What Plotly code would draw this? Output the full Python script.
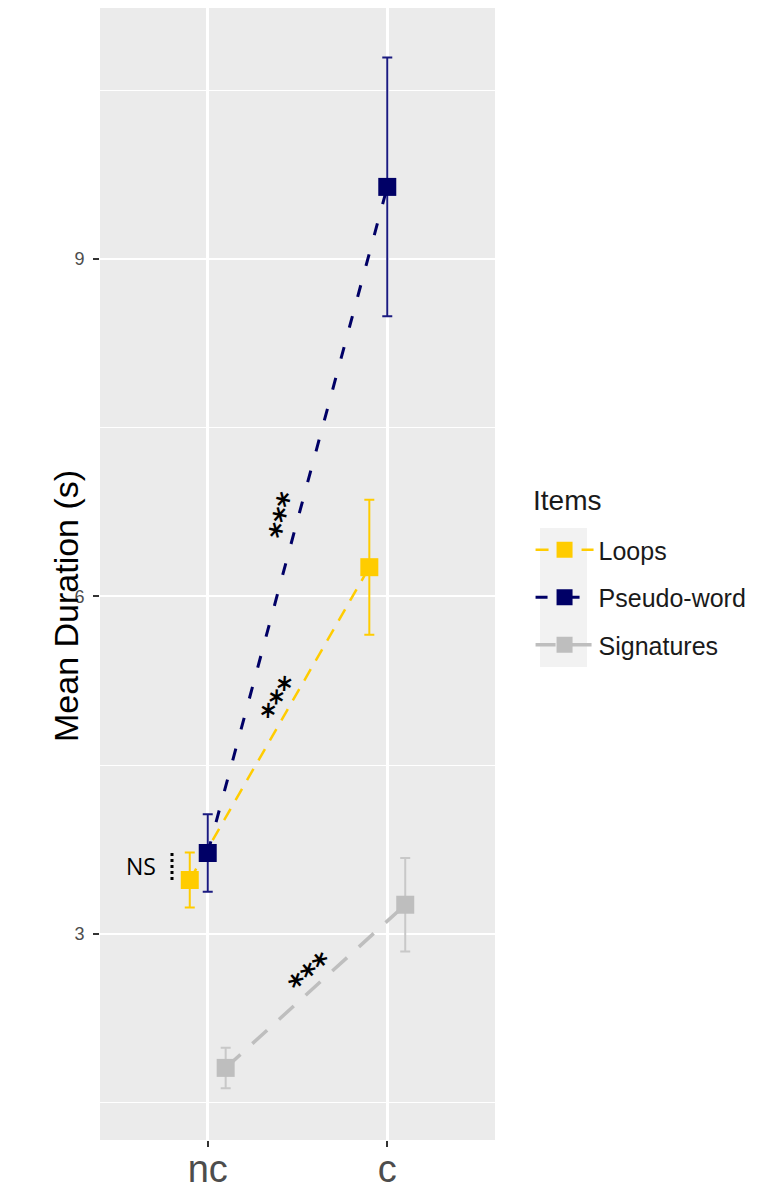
import plotly.graph_objects as go

# Conditions on the x axis and item types
conditions = ["nc", "c"]
cond_pos = [1, 2]
items = ["Loops", "Pseudo-word", "Signatures"]

# Mean durations (s) and error half-widths per condition
loops_mean = [3.48, 6.26]
loops_err = [0.245, 0.60]
pseudo_mean = [3.72, 9.64]
pseudo_err = [0.345, 1.15]
sig_mean = [1.81, 3.26]
sig_err = [0.18, 0.415]

means = [loops_mean, pseudo_mean, sig_mean]
errs = [loops_err, pseudo_err, sig_err]

colors = ["#FFCC00", "#000066", "#BEBEBE"]
err_colors = ["#FFCC00", "#1A1A80", "#C8C8C8"]
dodge = [-0.1, 0.0, 0.1]
dashes = ["13px,10px", "12px,20px", "20px,16px"]
widths = [2.5, 3, 3.5]

# plot area in pixels (left, right, top, bottom)
px_l, px_r, px_t, px_b = 100, 495, 8, 1140


def paper_x(px):
    return (px - px_l) / (px_r - px_l)


def paper_y(py):
    return (px_b - py) / (px_b - px_t)


fig = go.Figure()
for i, name in enumerate(items):
    fig.add_trace(go.Scatter(
        x=[p + dodge[i] for p in cond_pos],
        y=means[i],
        name=name,
        legendgroup=name,
        mode="lines+markers",
        line=dict(color=colors[i], width=widths[i], dash=dashes[i]),
        marker=dict(symbol="square", size=18, color=colors[i]),
        error_y=dict(type="data", array=errs[i], symmetric=True,
                     color=err_colors[i], thickness=2, width=5),
    ))

# Significance labels along each line
star_labels = [
    dict(x=1.405, y=5.084, angle=-59),   # Loops
    dict(x=1.428, y=6.716, angle=-77),   # Pseudo-word
    dict(x=1.575, y=2.653, angle=-41),   # Signatures
]
annotations = []
for s in star_labels:
    annotations.append(dict(
        x=s["x"], y=s["y"], xref="x", yref="y", text="***", showarrow=False,
        textangle=s["angle"],
        font=dict(family="DejaVu Sans", size=30, color="black", weight="bold"),
    ))
annotations.append(dict(
    x=0.628, y=(loops_mean[0] + pseudo_mean[0]) / 2, xref="x", yref="y", text="NS",
    showarrow=False, font=dict(family="Open Sans", size=23, color="black"),
))
# y axis title
annotations.append(dict(
    x=paper_x(45), y=paper_y(606), xref="paper", yref="paper",
    text="Mean Duration (s)", showarrow=False, textangle=-90,
    font=dict(family="Liberation Sans", size=34, color="black"),
))
# legend heading
annotations.append(dict(
    x=paper_x(531), y=paper_y(500), xref="paper", yref="paper",
    xanchor="left", yanchor="middle", text="Items", showarrow=False,
    font=dict(family="Liberation Sans", size=28, color="#1A1A1A"),
))

shapes = [
    # dotted bracket between the two nc means
    dict(type="line", xref="x", yref="y", x0=0.801, x1=0.801,
         y0=loops_mean[0], y1=pseudo_mean[0],
         line=dict(color="black", width=3, dash="dot")),
    # grey background behind the legend keys
    dict(type="rect", xref="paper", yref="paper",
         x0=paper_x(540), x1=paper_x(587),
         y0=paper_y(667), y1=paper_y(528),
         fillcolor="#F2F2F2", line=dict(width=0), layer="below"),
]

fig.update_layout(
    width=759, height=1193,
    margin=dict(l=px_l, r=759 - px_r, t=px_t, b=1193 - px_b, autoexpand=False),
    paper_bgcolor="white",
    plot_bgcolor="#EBEBEB",
    font=dict(family="Liberation Sans", color="#1A1A1A"),
    showlegend=True,
    legend=dict(
        font=dict(size=25, color="#1A1A1A"),
        x=1.09, xanchor="left", y=paper_y(527), yanchor="top",
        itemwidth=58,
        bgcolor="rgba(0,0,0,0)", tracegroupgap=12,
    ),
    annotations=annotations,
    shapes=shapes,
    xaxis=dict(
        range=[0.4, 2.6], tickvals=cond_pos, ticktext=conditions,
        showgrid=True, gridcolor="white", gridwidth=2.5, zeroline=False,
        ticks="outside", ticklen=6, tickwidth=2, tickcolor="#333333",
        ticklabelstandoff=-11,
        tickfont=dict(size=38, color="#4D4D4D"), automargin=False,
    ),
    yaxis=dict(
        range=[1.169, 11.23], tick0=0, dtick=3,
        showgrid=True, gridcolor="white", gridwidth=2, zeroline=False,
        ticks="outside", ticklen=6, tickwidth=1.5, tickcolor="#333333",
        ticklabelstandoff=5,
        tickfont=dict(size=18, color="#4D4D4D"), automargin=False,
        minor=dict(dtick=1.5, showgrid=True, gridcolor="white", gridwidth=1.2),
    ),
)

fig.write_html("out.html")
